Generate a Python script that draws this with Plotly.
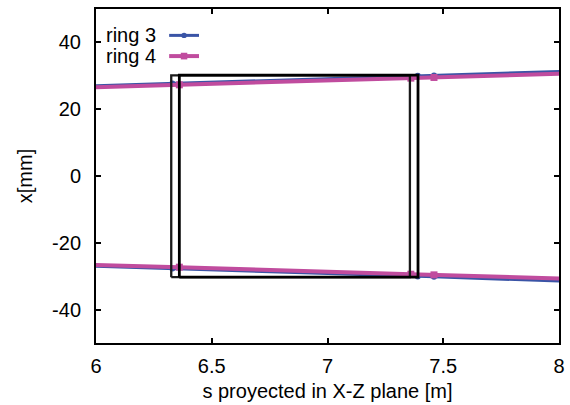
import plotly.graph_objects as go

# ---- data ----
ring3_s = [5.8, 6.33, 7.39, 7.46, 8.2]
ring3_top = [26.6, 27.7, 30.0, 30.1, 31.7]
ring3_bot = [-26.6, -27.7, -30.1, -30.2, -31.9]

ring4_s = [5.8, 6.36, 7.36, 7.46, 8.2]
ring4_top = [26.2, 27.3, 29.3, 29.5, 31.0]
ring4_bot = [-26.3, -27.3, -29.4, -29.6, -31.1]

magnet_start = [6.325, 6.36]
magnet_end = [7.356, 7.391]
magnet_top = [30.1, 30.2]
magnet_bot = [-30.3, -30.3]
magnet_colors = ["#1a1a1a", "#000000"]
magnet_widths = [2.3, 2.8]

x_ticks = [6, 6.5, 7, 7.5, 8]
x_labels = ["6", "6.5", "7", "7.5", "8"]
y_ticks = [-40, -20, 0, 20, 40]
y_labels = ["-40", "-20", "0", "20", "40"]

BLUE = "#3a54a6"
MAG = "#c04c9e"
FONT = "Liberation Sans, Arial, sans-serif"
FS = 20

fig = go.Figure()

fig.add_trace(go.Scatter(
    x=ring3_s + [None] + ring3_s, y=ring3_top + [None] + ring3_bot,
    mode="lines+markers", name="ring 3",
    line=dict(color=BLUE, width=3), marker=dict(symbol="circle", size=6, color=BLUE),
    showlegend=False))
fig.add_trace(go.Scatter(
    x=ring4_s + [None] + ring4_s, y=ring4_top + [None] + ring4_bot,
    mode="lines+markers", name="ring 4",
    line=dict(color=MAG, width=4), marker=dict(symbol="square", size=7, color=MAG),
    showlegend=False))

for s0, s1, yt, yb, c, w in zip(magnet_start, magnet_end, magnet_top, magnet_bot,
                                magnet_colors, magnet_widths):
    fig.add_trace(go.Scatter(
        x=[s0, s1, s1, s0, s0], y=[yb, yb, yt, yt, yb], mode="lines",
        line=dict(color=c, width=w), showlegend=False, hoverinfo="skip"))

# manual gnuplot-style legend (text left of sample)
legend_items = [("ring 3", BLUE, 3, "circle"), ("ring 4", MAG, 4, "square")]
shapes = []
annotations = []
for i, (name, col, w, sym) in enumerate(legend_items):
    yp = 0.921 - i * 0.062
    annotations.append(dict(x=0.134, y=yp, xref="paper", yref="paper", text=name,
                            showarrow=False, xanchor="right", yanchor="middle",
                            font=dict(family=FONT, size=FS, color="black")))
    shapes.append(dict(type="line", xref="paper", yref="paper", x0=0.158, x1=0.2225,
                       y0=yp, y1=yp, line=dict(color=col, width=w)))
    if sym == "circle":
        shapes.append(dict(type="circle", xref="paper", yref="paper",
                           x0=0.1902 - 0.006, x1=0.1902 + 0.006, y0=yp - 0.008, y1=yp + 0.008,
                           fillcolor=col, line=dict(width=0)))
    else:
        shapes.append(dict(type="rect", xref="paper", yref="paper",
                           x0=0.1902 - 0.007, x1=0.1902 + 0.007, y0=yp - 0.010, y1=yp + 0.010,
                           fillcolor=col, line=dict(width=0)))

axis_common = dict(showline=True, linecolor="black", linewidth=2, mirror="ticks",
                   ticks="inside", ticklen=5, tickwidth=1.5, tickcolor="black",
                   showgrid=False, zeroline=False, automargin=False,
                   tickfont=dict(family=FONT, size=FS, color="black"))

fig.update_layout(
    width=570, height=405,
    margin=dict(l=96, r=11, t=9, b=62),
    paper_bgcolor="white", plot_bgcolor="white",
    font=dict(family=FONT, size=FS, color="black"),
    shapes=shapes, annotations=annotations,
    xaxis=dict(range=[6, 8], tickvals=x_ticks, ticktext=x_labels,
               ticklabelstandoff=4,
               title=dict(text="s proyected in X-Z plane [m]", standoff=8,
                          font=dict(family=FONT, size=FS)),
               **axis_common),
    yaxis=dict(range=[-50, 50], tickvals=y_ticks, ticktext=y_labels,
               ticklabelstandoff=9,
               title=dict(text="x[mm]", standoff=14, font=dict(family=FONT, size=FS)),
               **axis_common),
)

fig.write_html("out.html")
